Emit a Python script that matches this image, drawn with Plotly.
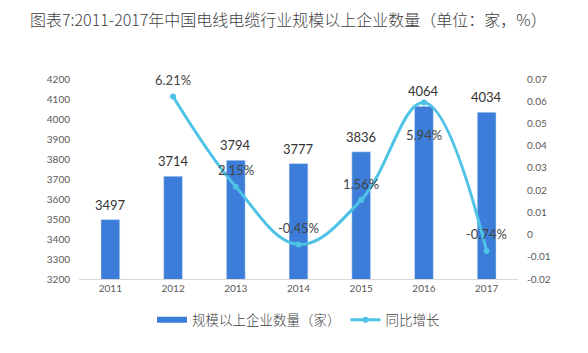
import plotly.graph_objects as go

years = ["2011", "2012", "2013", "2014", "2015", "2016", "2017"]
counts = [3497, 3714, 3794, 3777, 3836, 4064, 4034]
growth_years = ["2012", "2013", "2014", "2015", "2016", "2017"]
growth = [0.0621, 0.0215, -0.0045, 0.0156, 0.0594, -0.0074]
growth_labels = ["6.21%", "2.15%", "-0.45%", "1.56%", "5.94%", "-0.74%"]
growth_label_shift = [17, 17, 17, 16, -32, 17]
left_ticks = list(range(3200, 4201, 100))
right_ticks = [-0.02, -0.01, 0, 0.01, 0.02, 0.03, 0.04, 0.05, 0.06, 0.07]
right_text = ["-0.02", "-0.01", "0", "0.01", "0.02", "0.03", "0.04", "0.05", "0.06", "0.07"]

FONT = "Lato, 'Noto Sans CJK SC', sans-serif"
CJK = "'Noto Sans CJK SC', sans-serif"
BAR_C = "#3B7DD8"
LINE_C = "#4EC3E6"

fig = go.Figure()
fig.add_trace(go.Bar(
    x=years, y=counts, name="规模以上企业数量（家）", showlegend=False,
    marker_color=BAR_C, width=0.30,
))
for i, c in enumerate(counts):
    fig.add_annotation(x=i, y=c, xref="x", yref="y", text=str(c), showarrow=False,
                       yshift=15, font=dict(size=13, color="#333333", family=FONT))
# legend entry for bars drawn as a wide flat block
fig.add_trace(go.Scatter(
    x=[years[0]], y=[None], name="规模以上企业数量（家）", mode="lines",
    line=dict(color=BAR_C, width=6),
))
fig.add_trace(go.Scatter(
    x=growth_years, y=growth, name="同比增长", yaxis="y2",
    mode="lines+markers", line=dict(color=LINE_C, width=3, shape="spline", smoothing=1.1),
    marker=dict(size=6, color=LINE_C), cliponaxis=False,
))
for gx, gy, gt, gs in zip(growth_years, growth, growth_labels, growth_label_shift):
    fig.add_annotation(x=years.index(gx), y=gy, xref="x", yref="y2", text=gt, showarrow=False,
                       yshift=gs, font=dict(size=13, color="#444444", family=FONT))

fig.update_layout(
    width=588, height=353,
    margin=dict(l=79, r=70, t=79, b=74),
    paper_bgcolor="white", plot_bgcolor="white",
    font=dict(family=FONT, color="#595959"),
    title=dict(text="图表7:2011-2017年中国电线电缆行业规模以上企业数量（单位：家，%）",
               x=30 / 588, xanchor="left", xref="container", y=1 - 20 / 353, yanchor="middle",
               font=dict(size=16, color="#404040", family=CJK, weight=300)),
    xaxis=dict(type="category", categoryorder="array", categoryarray=years,
               range=[-0.5, len(years) - 0.5],
               showline=True, linecolor="#D9D9D9", linewidth=1, ticks="",
               tickfont=dict(size=10, color="#595959")),
    yaxis=dict(range=[3200, 4200], tickvals=left_ticks, showgrid=False, zeroline=False,
               tickfont=dict(size=10, color="#595959"), ticklabelstandoff=8),
    yaxis2=dict(range=[-0.02, 0.07], overlaying="y", side="right", tickvals=right_ticks,
                ticktext=right_text, showgrid=False, zeroline=False,
                tickfont=dict(size=10, color="#595959"), ticklabelstandoff=8),
    legend=dict(orientation="h", x=0.5, xanchor="center", y=-0.205, yanchor="middle",
                itemwidth=30,
                font=dict(size=13.5, color="#404040", family=CJK, weight=300)),
    showlegend=True,
)

fig.write_html("out.html")
